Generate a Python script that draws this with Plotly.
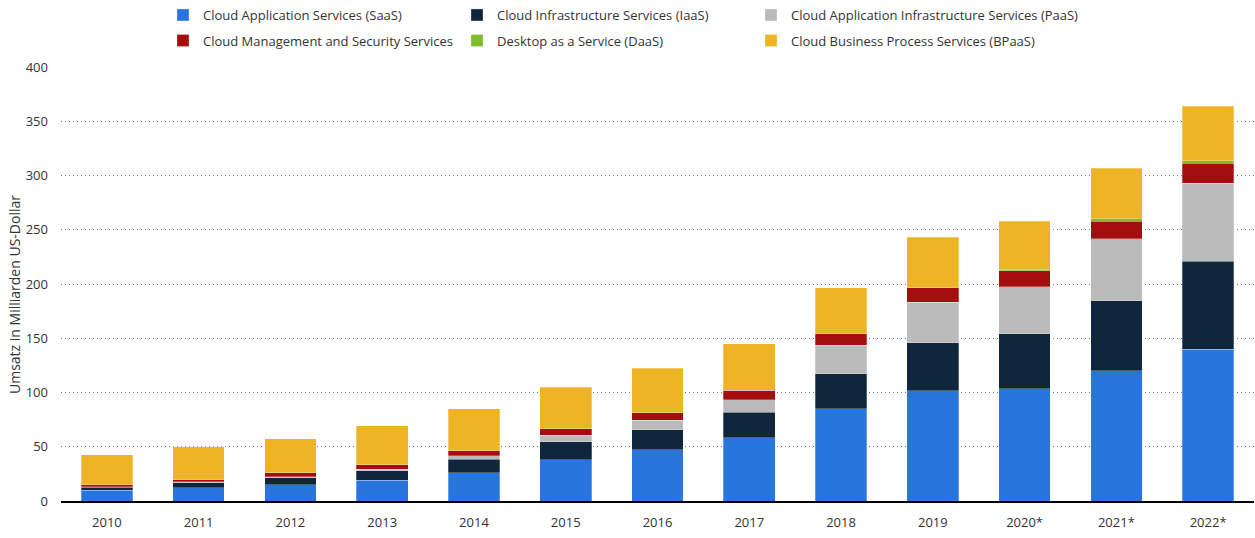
import plotly.graph_objects as go

years = ["2010", "2011", "2012", "2013", "2014", "2015", "2016", "2017",
         "2018", "2019", "2020*", "2021*", "2022*"]

saas = [9.9, 12.4, 15.2, 18.9, 26.2, 37.9, 47.4, 58.1, 84.8, 101.4, 103.5, 120.1, 140.0]
iaas = [2.8, 4.3, 6.4, 9.2, 12.3, 16.6, 18.1, 23.6, 32.5, 44.4, 50.6, 64.4, 81.0]
paas = [0.6, 1.0, 0.9, 1.2, 3.4, 6.0, 8.8, 11.7, 26.4, 37.5, 43.5, 57.3, 71.7]
mgmt = [1.9, 2.4, 3.4, 4.3, 4.3, 5.9, 7.1, 8.9, 10.4, 13.1, 14.4, 16.2, 18.4]
daas = [0, 0, 0, 0, 0, 0, 0, 0, 0, 0, 1.3, 2.0, 2.3]
bpaas = [27.6, 29.8, 31.6, 35.9, 38.9, 38.6, 40.8, 42.6, 42.6, 46.6, 44.5, 46.9, 50.2]

series_names = [
    "Cloud Application Services (SaaS)",
    "Cloud Infrastructure Services (IaaS)",
    "Cloud Application Infrastructure Services (PaaS)",
    "Cloud Management and Security Services",
    "Desktop as a Service (DaaS)",
    "Cloud Business Process Services (BPaaS)",
]
series_values = [saas, iaas, paas, mgmt, daas, bpaas]
series_colors = ["#2876DD", "#10263D", "#BABABA", "#A50E0E", "#80BC2C", "#EDB526"]

y_title = "Umsatz in Milliarden US-Dollar"

FONT = "Open Sans"
TXT = "#333333"

# legend grid: 3 columns x 2 rows (pixel positions of each entry)
legend_cols_px = [163, 457, 751]
legend_rows_px = [0, 25.5]

fig = go.Figure()
legend_layouts = {}
for i, (name, vals, color) in enumerate(zip(series_names, series_values, series_colors)):
    key = "legend" if i == 0 else f"legend{i + 1}"
    fig.add_trace(go.Bar(
        name=name, x=years, y=vals, legend=key, showlegend=True,
        marker=dict(color=color, line=dict(color="rgba(255,255,255,0.45)", width=0.6)),
    ))
    col, row = i % 3, i // 3
    legend_layouts[key] = dict(
        visible=True,
        orientation="h",
        xref="container", yref="container",
        x=legend_cols_px[col] / 1255, y=1 - legend_rows_px[row] / 538,
        xanchor="left", yanchor="top",
        font=dict(family=FONT, size=13, color=TXT),
        itemclick=False, itemdoubleclick=False,
        bgcolor="rgba(0,0,0,0)",
    )

fig.update_layout(
    showlegend=True,
    barmode="stack",
    bargap=0.437,
    width=1255, height=538,
    margin=dict(l=61, r=1, t=67, b=37),
    paper_bgcolor="white", plot_bgcolor="white",
    font=dict(family=FONT, size=13, color=TXT),
    xaxis=dict(
        showgrid=False,
        showline=True, linecolor="#000000", linewidth=2,
        ticks="outside", ticklen=8, tickcolor="rgba(0,0,0,0)",
        tickfont=dict(family=FONT, size=13, color=TXT),
    ),
    yaxis=dict(
        range=[0, 400],
        dtick=50,
        showgrid=True, gridcolor="#7a7a7a", griddash="1.3px,2.7px", gridwidth=1.2,
        zeroline=False,
        ticks="", ticklabelstandoff=12,
        tickfont=dict(family=FONT, size=13, color=TXT),
    ),
    annotations=[dict(
        text=y_title, textangle=-90,
        xref="paper", yref="paper",
        x=(14 - 61) / 1193, y=(501 - 295) / 434,
        xanchor="center", yanchor="middle", showarrow=False,
        font=dict(family=FONT, size=14, color=TXT),
    )],
    **legend_layouts,
)

fig.write_html("out.html",
               config={"displayModeBar": False},
               post_script="document.body.style.margin='0';document.body.style.padding='0';")
